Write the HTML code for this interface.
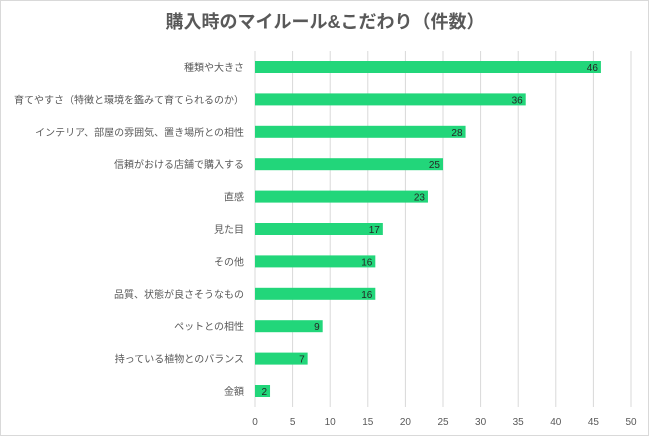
<!DOCTYPE html>
<html><head><meta charset="utf-8"><style>
body{margin:0;background:#fff;}
svg{display:block;font-family:"Liberation Sans","Noto Sans CJK JP",sans-serif;}
</style></head><body>
<svg id="chart" width="650" height="437">
<rect x="0.5" y="0.5" width="648" height="435" fill="#fff" stroke="#d9d9d9"/>
<text x="325" y="28" text-anchor="middle" font-size="18" font-weight="bold" fill="#595959">購入時のマイルール&amp;こだわり（件数）</text>
<g id="grid"></g><g id="bars"></g><g id="labels"></g>
</svg>
<script>
const categories=["種類や大きさ","育てやすさ（特徴と環境を鑑みて育てられるのか）","インテリア、部屋の雰囲気、置き場所との相性","信頼がおける店舗で購入する","直感","見た目","その他","品質、状態が良さそうなもの","ペットとの相性","持っている植物とのバランス","金額"];
const values=[46,36,28,25,23,17,16,16,9,7,2];
const ticks=[0,5,10,15,20,25,30,35,40,45,50];
const ns="http://www.w3.org/2000/svg";
const x0=255,x1=631,yTop=51,yBot=407,top0=67,step=32.4,bh=12;
const xs=v=>x0+(x1-x0)*v/50;
const ys=i=>top0+i*step;
function mk(t,a,p){const e=document.createElementNS(ns,t);for(const k in a)e.setAttribute(k,a[k]);p.appendChild(e);return e;}
const grid=document.getElementById('grid'),bars=document.getElementById('bars'),labels=document.getElementById('labels');
ticks.forEach(t=>{
 const l=mk('line',{x1:xs(t),x2:xs(t),y1:yTop,y2:yBot,stroke:'#d9d9d9','stroke-width':1},grid);
 
 
 const tx=mk('text',{x:xs(t),y:425,'text-anchor':'middle','font-size':10,fill:'#595959'},grid);
 tx.textContent=t;
 
 
});
categories.forEach((c,i)=>{
 const y=ys(i);
 const r=mk('rect',{x:xs(0),y:y-bh/2,width:xs(values[i])-xs(0),height:bh,fill:'#22d67a'},bars);
 
 
 const v=mk('text',{x:xs(values[i])-3,y:y+4,'text-anchor':'end','font-size':10,fill:'#262626'},bars);
 v.textContent=values[i];
 
 
 const lb=mk('text',{x:244,y:y+4,'text-anchor':'end','font-size':10,fill:'#595959'},labels);
 lb.textContent=c;
 
 
});
</script>
</body></html>
